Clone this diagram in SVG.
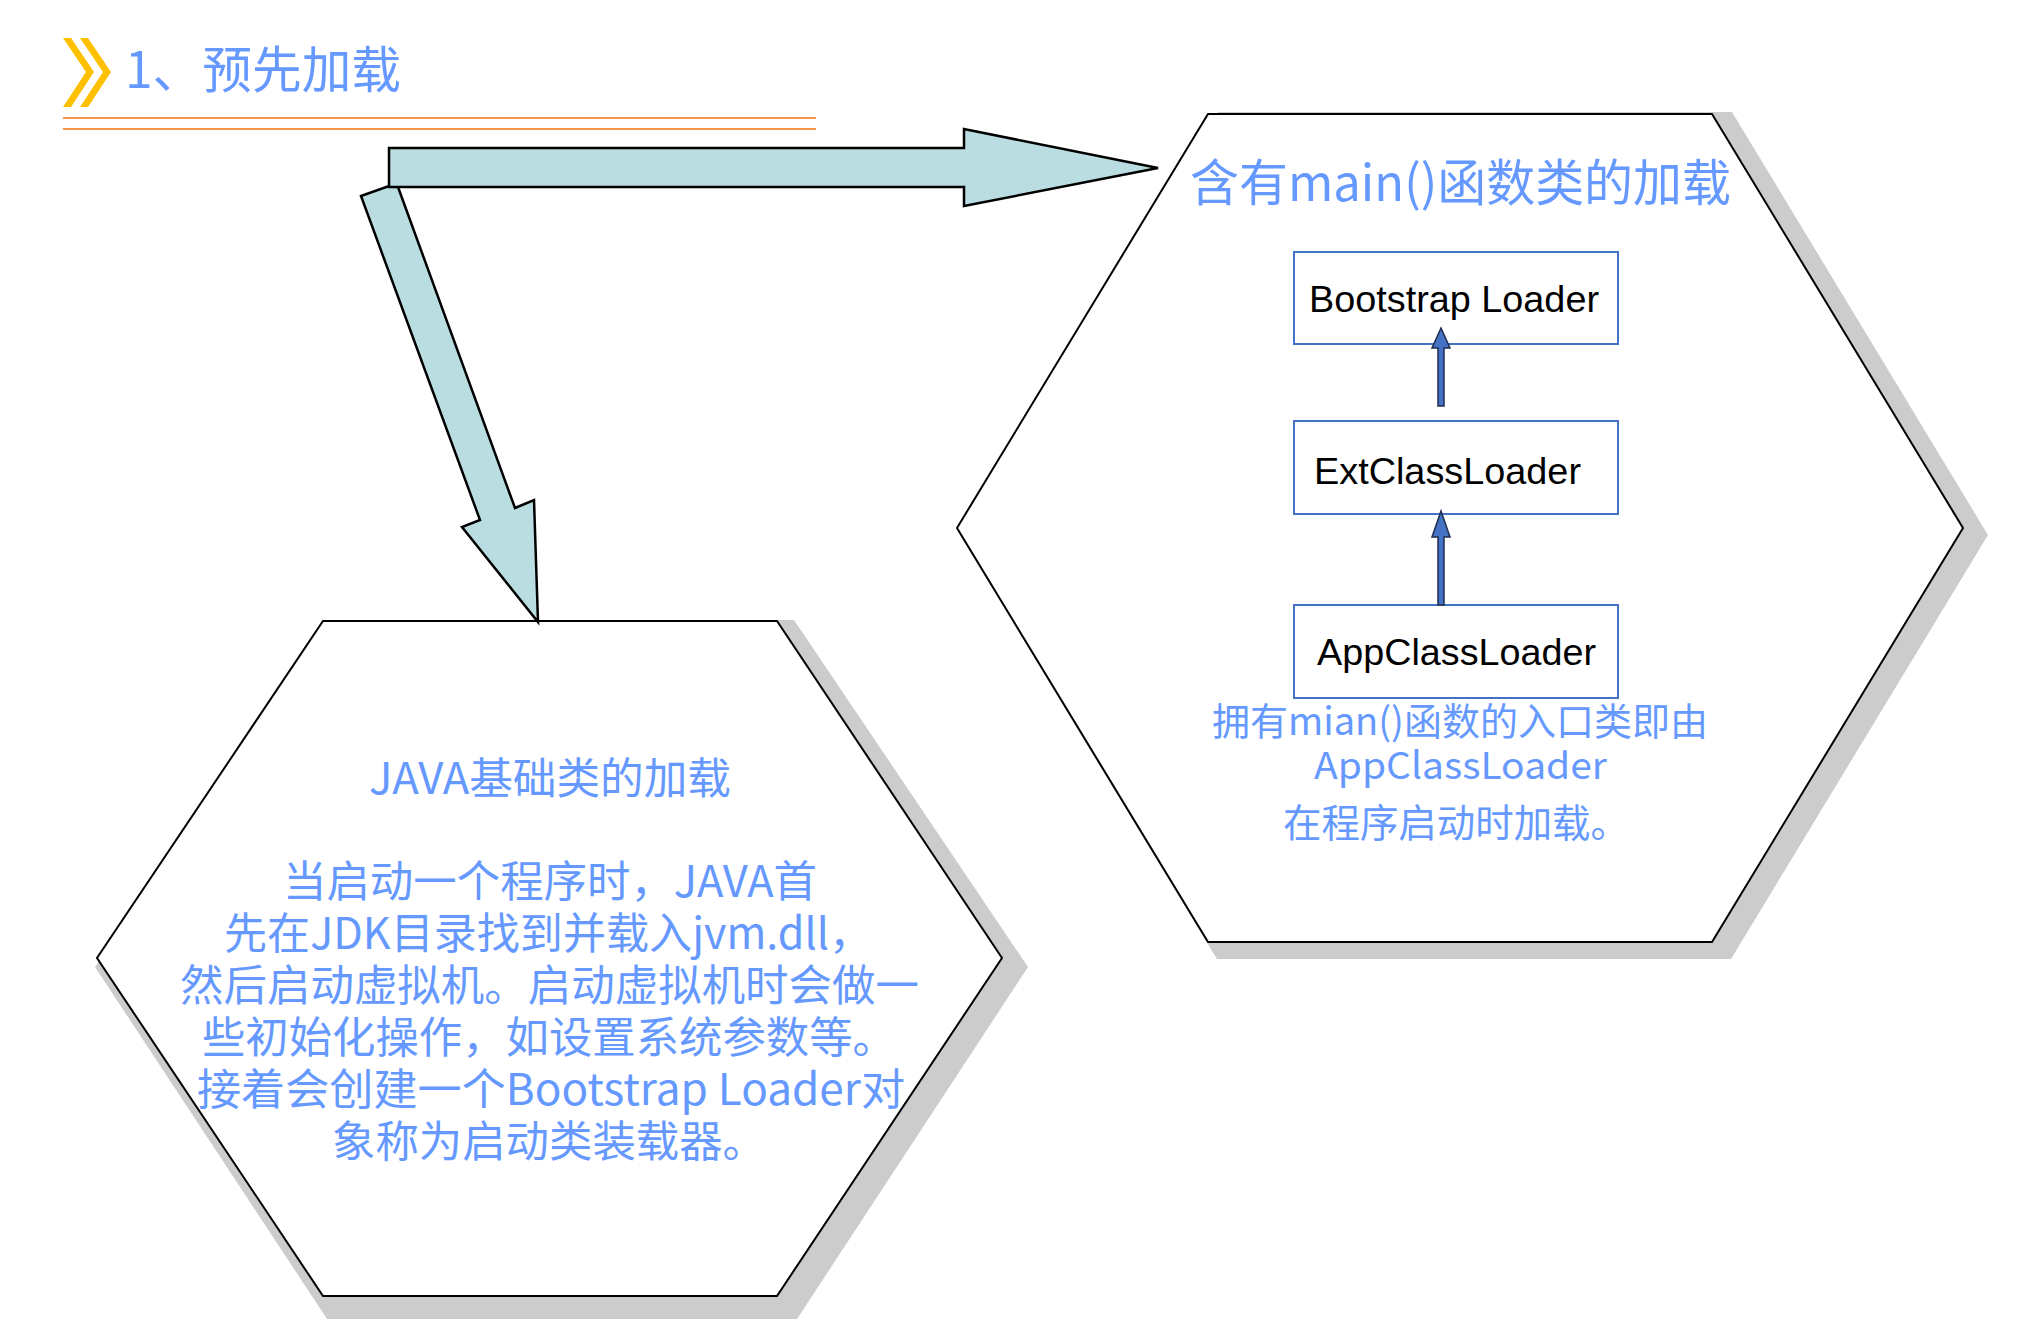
<svg xmlns="http://www.w3.org/2000/svg" width="2017" height="1331" viewBox="0 0 2017 1331">
<style>
.shadow{fill:#CCCCCC;stroke:none}
.hex{fill:#FFFFFF;stroke:#000000;stroke-width:2;stroke-linejoin:miter}
.big{fill:#B9DDE0;stroke:#000000;stroke-width:2.5;stroke-linejoin:miter}
.box{fill:#FFFFFF;stroke:#4472C4;stroke-width:2}
.small{fill:#4472C4;stroke:#1F2D4F;stroke-width:1.5;stroke-linejoin:miter}
.blue{fill:#6699FF;font-family:"Noto Sans CJK SC","Microsoft YaHei",sans-serif}
.lbl{fill:#000000;font-family:"Liberation Sans",Arial,sans-serif;font-size:37.5px}
.rule{stroke:#F79646;stroke-width:2.2}
.chev{fill:#FFC000}
</style>
<rect width="2017" height="1331" fill="#FFFFFF"/>

<g id="title">
  <polygon class="chev" points="63,38 71,38 94,72 71,107 63,107 86,72"/>
  <polygon class="chev" points="80,38 88,38 111,72 88,107 80,107 103,72"/>
  <text class="blue" x="125" y="88" font-size="50" textLength="276" lengthAdjust="spacingAndGlyphs">1、预先加载</text>
  <line class="rule" x1="63" y1="118" x2="816" y2="118"/>
  <line class="rule" x1="63" y1="129" x2="816" y2="129"/>
</g>

<g id="node-java-base">
  <polygon class="shadow" points="329,620 794,620 1028,967 797,1319 327,1319 95,967"/>
  <polygon class="hex" points="323,621 777,621 1002,958 777,1296 323,1296 97,958"/>
  <text class="blue" font-size="43.4" x="369" y="794" textLength="362" lengthAdjust="spacingAndGlyphs">JAVA基础类的加载</text>
  <text class="blue" font-size="43.4" x="283" y="897" textLength="534" lengthAdjust="spacingAndGlyphs">当启动一个程序时，JAVA首</text>
  <text class="blue" font-size="43.4" x="224" y="949" textLength="648" lengthAdjust="spacingAndGlyphs">先在JDK目录找到并载入jvm.dll，</text>
  <text class="blue" font-size="43.4" x="180" y="1001" textLength="739" lengthAdjust="spacingAndGlyphs">然后启动虚拟机。启动虚拟机时会做一</text>
  <text class="blue" font-size="43.4" x="202" y="1053" textLength="694" lengthAdjust="spacingAndGlyphs">些初始化操作，如设置系统参数等。</text>
  <text class="blue" font-size="43.4" x="197" y="1105" textLength="708" lengthAdjust="spacingAndGlyphs">接着会创建一个Bootstrap Loader对</text>
  <text class="blue" font-size="43.4" x="332" y="1157" textLength="434" lengthAdjust="spacingAndGlyphs">象称为启动类装载器。</text>
</g>

<g id="node-main-class">
  <polygon class="shadow" points="1218,112 1732,112 1988,535 1731,959 1217,959 960,535"/>
  <polygon class="hex" points="1208,114 1712,114 1963,528 1712,942 1208,942 957,528"/>
  <text class="blue" font-size="50" x="1190" y="201" textLength="541" lengthAdjust="spacingAndGlyphs">含有main()函数类的加载</text>
  <text class="blue" font-size="38" x="1212" y="735" textLength="496" lengthAdjust="spacingAndGlyphs">拥有mian()函数的入口类即由</text>
  <text class="blue" font-size="37" x="1314" y="779" textLength="293" lengthAdjust="spacingAndGlyphs">AppClassLoader</text>
  <text class="blue" font-size="38.4" x="1283" y="837" textLength="346" lengthAdjust="spacingAndGlyphs">在程序启动时加载。</text>
</g>

<g id="node-bootstrap">
  <rect class="box" x="1294" y="252" width="324" height="92"/>
  <text class="lbl" x="1309" y="312" textLength="290" lengthAdjust="spacingAndGlyphs">Bootstrap Loader</text>
</g>
<g id="node-ext">
  <rect class="box" x="1294" y="421" width="324" height="93"/>
  <text class="lbl" x="1314" y="484" textLength="267" lengthAdjust="spacingAndGlyphs">ExtClassLoader</text>
</g>
<g id="node-app">
  <rect class="box" x="1294" y="605" width="324" height="93"/>
  <text class="lbl" x="1317" y="665" textLength="279" lengthAdjust="spacingAndGlyphs">AppClassLoader</text>
</g>

<g id="connectors">
  <polygon class="big" points="361,196 389,186 398,187 515,508 534,500 538,622 462,527 480,520"/>
  <polygon class="big" points="389,148 964,148 964,129 1158,168 964,206 964,187 389,187"/>
  <polygon class="small" points="1438,406 1444,406 1444,348 1450,348 1441,328 1432,348 1438,348"/>
  <polygon class="small" points="1438,605 1444,605 1444,537 1450,537 1441,511 1432,537 1438,537"/>
</g>
</svg>
